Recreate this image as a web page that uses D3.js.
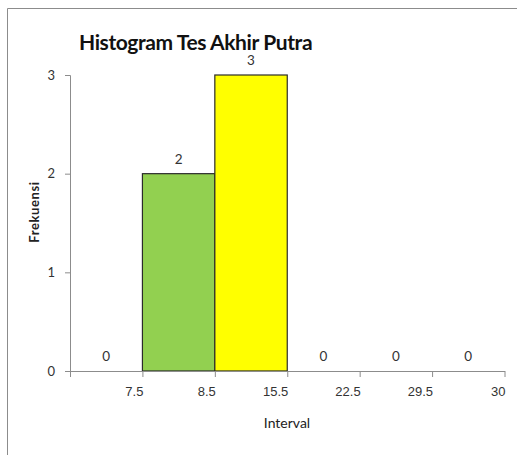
<!DOCTYPE html>
<html><head><meta charset="utf-8">
<script src="https://cdn.jsdelivr.net/npm/d3@7"></script>
<style>body{margin:0;background:#fff}svg{display:block;font-family:Lato,"Open Sans",sans-serif}</style>
</head><body>
<svg id="c" width="517" height="455"></svg>
<script>
const categories = ["bin1","bin2","bin3","bin4","bin5","bin6"];
const tickLabels = ["7.5","8.5","15.5","22.5","29.5","30"];
const values = [0,2,3,0,0,0];
const barColors = ["#92D050","#92D050","#FFFF00","#92D050","#92D050","#92D050"];
const yTicks = [0,1,2,3];

const svg = d3.select("#c");
// frame
svg.append("path").attr("d","M7.5,455 V8.5 H517").attr("fill","none").attr("stroke","#8c8c8c").attr("stroke-width",1);

const x = d3.scaleBand().domain(categories).range([70,504.5]).padding(0);
const y = d3.scaleLinear().domain([0,3]).range([371,75]);

// bars
svg.selectAll("rect.bar").data(values).join("rect")
  .attr("class","bar")
  .attr("x",(d,i)=>x(categories[i]))
  .attr("width",x.bandwidth())
  .attr("y",d=>y(d))
  .attr("height",d=>y(0)-y(d))
  .attr("fill",(d,i)=>barColors[i])
  .attr("stroke","#2b2b2b").attr("stroke-width",1.2)
  .style("display",d=>d>0?null:"none");

// y axis
const yAxis = svg.append("g").attr("transform","translate(70,0)")
  .call(d3.axisLeft(y).tickValues(yTicks).tickFormat(d3.format("d")).tickSize(5).tickPadding(10));
yAxis.select(".domain").attr("stroke","#8c8c8c");
yAxis.selectAll(".tick line").attr("stroke","#8c8c8c");
yAxis.selectAll(".tick text").attr("fill","#333").attr("font-size",13).attr("font-family","Lato,sans-serif");

// x axis
const xl = d3.scaleLinear().domain([0,categories.length]).range([70,504.5]);
const xAxis = svg.append("g").attr("transform","translate(0,371)")
  .call(d3.axisBottom(xl).tickValues(d3.range(0,categories.length+1)).tickSize(6).tickSizeOuter(0)
    .tickFormat(d=> d===0 ? "" : tickLabels[d-1]).tickPadding(10));
xAxis.select(".domain").attr("stroke","#8c8c8c");
xAxis.selectAll(".tick line").attr("stroke","#8c8c8c");
xAxis.selectAll(".tick text").attr("fill","#333").attr("font-size",13)
  .attr("text-anchor","end").attr("dx","0.5");

// value labels
svg.selectAll("text.val").data(values).join("text")
  .attr("class","val")
  .attr("x",(d,i)=>x(categories[i])+x.bandwidth()/2)
  .attr("y",d=>y(d)-10)
  .attr("text-anchor","middle")
  .attr("font-size",13.5).attr("fill","#333")
  .text(d=>d);

// title
svg.append("text").attr("x",79).attr("y",50).attr("font-size",21).attr("font-weight","bold")
  .attr("fill","#111").attr("letter-spacing","-0.4").text("Histogram Tes Akhir Putra");

// axis titles
svg.append("text").attr("x",287).attr("y",428).attr("text-anchor","middle")
  .attr("font-size",14).attr("fill","#222").text("Interval");
svg.append("text").attr("transform","translate(39,212) rotate(-90)").attr("text-anchor","middle")
  .attr("font-size",13).attr("font-weight","bold").attr("fill","#222").attr("letter-spacing","0.6").text("Frekuensi");
</script>
</body></html>
